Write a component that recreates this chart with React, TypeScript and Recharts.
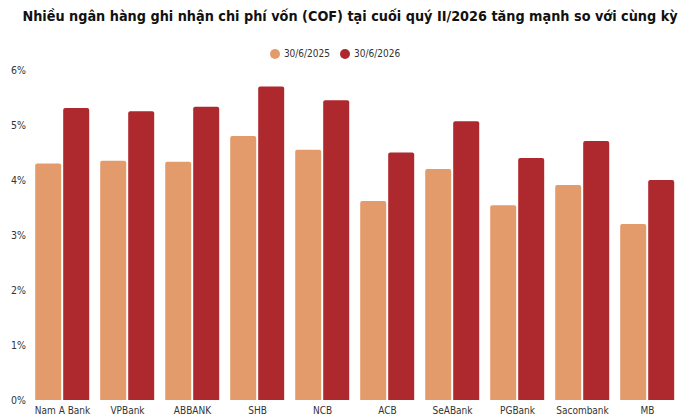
import React from "react";
import { BarChart, Bar, XAxis, YAxis, Legend } from "recharts";

const categories = ["Nam A Bank", "VPBank", "ABBANK", "SHB", "NCB", "ACB", "SeABank", "PGBank", "Sacombank", "MB"];
const cof2025 = [4.3, 4.35, 4.33, 4.8, 4.55, 3.62, 4.2, 3.54, 3.91, 3.2];
const cof2026 = [5.31, 5.25, 5.33, 5.7, 5.45, 4.5, 5.07, 4.4, 4.71, 4.0];
const yTicks = [0, 1, 2, 3, 4, 5, 6];
const title = "Nhiều ngân hàng ghi nhận chi phí vốn (COF) tại cuối quý II/2026 tăng mạnh so với cùng kỳ";
const seriesNames = ["30/6/2025", "30/6/2026"];

const data = categories.map((name, i) => ({ name, a: cof2025[i], b: cof2026[i] }));

const FONT = "'DejaVu Sans Condensed', 'DejaVu Sans', sans-serif";

export default function App() {
  return (
    <div style={{ position: "absolute", left: 0, top: 0, width: 700, height: 420, background: "#fff", fontFamily: FONT }}>
      <div style={{ position: "absolute", left: 0, top: 8, width: 700, textAlign: "center", fontWeight: "bold", fontSize: 14.3, color: "#111" }}>
        {title}
      </div>
      <BarChart width={700} height={420} data={data} margin={{ top: 59, right: 20, left: 0, bottom: 0 }} barGap={2} barCategoryGap="8%">
        <Legend
          verticalAlign="top"
          iconType="circle"
          iconSize={10}
          wrapperStyle={{ top: 48, fontSize: 10, fontFamily: FONT, color: "#333" }}
          formatter={(v) => <span style={{ color: "#333" }}>{v}</span>}
        />
        <XAxis dataKey="name" axisLine={false} tickLine={false} tickMargin={1} height={20} interval={0} tick={{ fontSize: 10, fill: "#333", fontFamily: FONT }} />
        <YAxis domain={[0, 6]} ticks={yTicks} axisLine={false} tickLine={false} width={30} tickMargin={2} tickFormatter={(v) => `${v}%`} tick={{ fontSize: 10.5, fill: "#333", fontFamily: FONT, dx: 4 }} />
        <Bar dataKey="a" name={seriesNames[0]} fill="#E49B6B" radius={[2, 2, 0, 0]} isAnimationActive={false} />
        <Bar dataKey="b" name={seriesNames[1]} fill="#AD292D" radius={[2, 2, 0, 0]} isAnimationActive={false} />
      </BarChart>
    </div>
  );
}
